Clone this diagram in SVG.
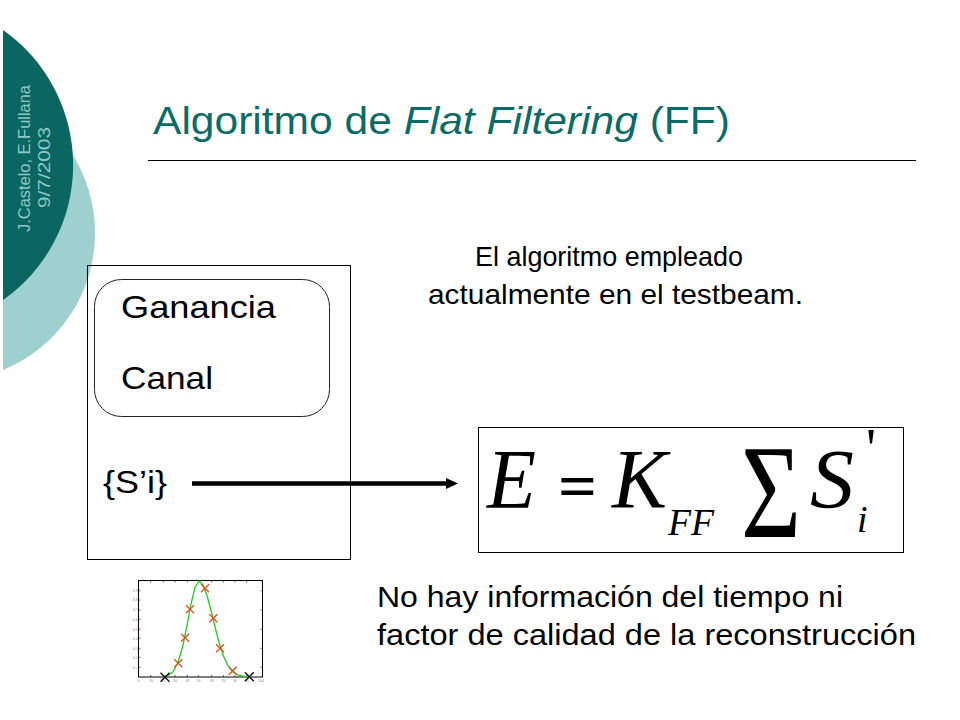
<svg xmlns="http://www.w3.org/2000/svg" width="960" height="720" viewBox="0 0 960 720">
<defs>
<style>
.sans{font-family:"Liberation Sans",Arial,sans-serif;}
.body{font-family:"Liberation Sans",Arial,sans-serif;fill:#000;}
.math{font-family:"Liberation Serif","Times New Roman",serif;fill:#000;}
.it{font-style:italic;}
.frame{fill:none;stroke:#000;stroke-width:1;}
.tick{stroke:#000;stroke-width:0.6;}
.tl{font-family:"Liberation Sans",Arial,sans-serif;font-size:3.5px;fill:#888;}
.mk{stroke:#d9531e;stroke-width:1.3;fill:none;}
.mkb{stroke:#111;stroke-width:1.4;fill:none;}
</style>
<marker id="ah" markerUnits="userSpaceOnUse" markerWidth="12" markerHeight="12" viewBox="0 0 12 12" refX="0" refY="6" orient="auto">
<path d="M0,0.5 L12,6 L0,11.5 Z" fill="#000"/>
</marker>
</defs>
<rect width="960" height="720" fill="#fff"/>

<g id="decoration">
<path d="M3,96 A148,148 0 0 1 3,370 Z" fill="#9fd0d0"/>
<path d="M3,30 A165,165 0 0 1 3,300 Z" fill="#0b6662"/>
<text class="sans" x="30" y="232" font-size="16" fill="#8fc7c6" textLength="147" lengthAdjust="spacingAndGlyphs" transform="rotate(-90 30 232)">J.Castelo, E.Fullana</text>
<text class="sans" x="50" y="208" font-size="16" fill="#8fc7c6" textLength="81" lengthAdjust="spacingAndGlyphs" transform="rotate(-90 50 208)">9/7/2003</text>
</g>

<g id="title">
<text class="sans" x="153" y="134" font-size="38" fill="#0c6b66" textLength="577" lengthAdjust="spacingAndGlyphs">Algoritmo de <tspan font-style="italic">Flat Filtering</tspan> (FF)</text>
<line x1="148" y1="160.5" x2="916" y2="160.5" stroke="#000" stroke-width="1"/>
</g>

<g id="node-channel">
<rect x="87.5" y="265.5" width="263" height="294" class="frame"/>
<g id="node-params">
<rect x="94.5" y="279.5" width="235" height="137" rx="27" ry="27" fill="none" stroke="#222" stroke-width="1"/>
<text class="body" x="121" y="318" font-size="32" textLength="155" lengthAdjust="spacingAndGlyphs">Ganancia</text>
<text class="body" x="121" y="389" font-size="32" textLength="92" lengthAdjust="spacingAndGlyphs">Canal</text>
</g>
<text id="node-signals" class="body" x="103" y="493" font-size="32" textLength="64" lengthAdjust="spacingAndGlyphs">{S’i}</text>
</g>

<g id="node-formula">
<rect x="478.5" y="427.5" width="425" height="125" class="frame"/>
<text class="math it" x="487" y="508" font-size="84" textLength="49" lengthAdjust="spacingAndGlyphs">E</text>
<text class="math" x="558" y="508" font-size="64" font-weight="bold" textLength="39" lengthAdjust="spacingAndGlyphs">=</text>
<text class="math it" x="612" y="508" font-size="84" textLength="55" lengthAdjust="spacingAndGlyphs">K</text>
<text class="math it" x="668" y="535" font-size="38" textLength="46" lengthAdjust="spacingAndGlyphs">FF</text>
<text class="math" x="741" y="537" font-size="134" textLength="60" lengthAdjust="spacingAndGlyphs">Σ</text>
<text class="math it" x="810" y="508" font-size="84" textLength="44" lengthAdjust="spacingAndGlyphs">S</text>
<text class="math it" x="857" y="532" font-size="38">i</text>
<text class="math" x="866" y="468" font-size="56">'</text>
</g>

<g id="note-top">
<text class="body" x="475" y="266" font-size="28" textLength="268" lengthAdjust="spacingAndGlyphs">El algoritmo empleado</text>
<text class="body" x="428" y="304" font-size="28" textLength="375" lengthAdjust="spacingAndGlyphs">actualmente en el testbeam.</text>
</g>

<g id="note-bottom">
<text class="body" x="377" y="607" font-size="30" textLength="466" lengthAdjust="spacingAndGlyphs">No hay información del tiempo ni</text>
<text class="body" x="377" y="645" font-size="30" textLength="539" lengthAdjust="spacingAndGlyphs">factor de calidad de la reconstrucción</text>
</g>

<g id="plot">
<rect x="138.5" y="580.5" width="124" height="96.5" class="frame"/>
<g class="tick">
<line x1="150.7" y1="677" x2="150.7" y2="675"/><line x1="163.3" y1="677" x2="163.3" y2="675"/><line x1="175" y1="677" x2="175" y2="675"/><line x1="187.3" y1="677" x2="187.3" y2="675"/><line x1="198.3" y1="677" x2="198.3" y2="675"/><line x1="211.7" y1="677" x2="211.7" y2="675"/><line x1="223.3" y1="677" x2="223.3" y2="675"/><line x1="235" y1="677" x2="235" y2="675"/><line x1="246.7" y1="677" x2="246.7" y2="675"/>
<line x1="150.7" y1="580.5" x2="150.7" y2="582.5"/><line x1="163.3" y1="580.5" x2="163.3" y2="582.5"/><line x1="175" y1="580.5" x2="175" y2="582.5"/><line x1="187.3" y1="580.5" x2="187.3" y2="582.5"/><line x1="211.7" y1="580.5" x2="211.7" y2="582.5"/><line x1="223.3" y1="580.5" x2="223.3" y2="582.5"/><line x1="235" y1="580.5" x2="235" y2="582.5"/><line x1="246.7" y1="580.5" x2="246.7" y2="582.5"/>
<line x1="138.5" y1="590.7" x2="140.5" y2="590.7"/><line x1="138.5" y1="600" x2="140.5" y2="600"/><line x1="138.5" y1="610" x2="140.5" y2="610"/><line x1="138.5" y1="619.3" x2="140.5" y2="619.3"/><line x1="138.5" y1="629.3" x2="140.5" y2="629.3"/><line x1="138.5" y1="638.3" x2="140.5" y2="638.3"/><line x1="138.5" y1="648.3" x2="140.5" y2="648.3"/><line x1="138.5" y1="657.3" x2="140.5" y2="657.3"/><line x1="138.5" y1="667.3" x2="140.5" y2="667.3"/>
<line x1="262.5" y1="590.7" x2="260.5" y2="590.7"/><line x1="262.5" y1="610" x2="260.5" y2="610"/><line x1="262.5" y1="629.3" x2="260.5" y2="629.3"/><line x1="262.5" y1="648.3" x2="260.5" y2="648.3"/><line x1="262.5" y1="667.3" x2="260.5" y2="667.3"/>
</g>
<g class="tl">
<text x="133" y="592">0.9</text><text x="133" y="601.3">0.8</text><text x="133" y="611.3">0.7</text><text x="133" y="620.6">0.6</text><text x="133" y="630.6">0.5</text><text x="133" y="639.6">0.4</text><text x="133" y="649.6">0.3</text><text x="133" y="658.6">0.2</text><text x="133" y="668.6">0.1</text>
<text x="137.5" y="682">0</text><text x="149" y="682">10</text><text x="161.5" y="682">20</text><text x="173.3" y="682">30</text><text x="185.5" y="682">40</text><text x="196.5" y="682">50</text><text x="210" y="682">60</text><text x="221.5" y="682">70</text><text x="233.3" y="682">80</text><text x="245" y="682">90</text><text x="258" y="682">100</text>
</g>
<polyline fill="none" stroke="#22cc22" stroke-width="1.3" points="163,676.6 168,675.5 173,671.7 178,662.5 183,645 187,625.3 191,604 195,587.4 199,581 203,584.8 207,595.5 211,610.5 215,627 219,642.4 223,655 228,665.8 233,672 238,675 244,676.5 250,677"/>
<path class="mk" d="M174.3,659.3 l8,8 M182.3,659.3 l-8,8 M181,633.7 l8,8 M189,633.7 l-8,8 M186,605.3 l8,8 M194,605.3 l-8,8 M201,584.3 l8,8 M209,584.3 l-8,8 M209.3,614.3 l8,8 M217.3,614.3 l-8,8 M216,644.3 l8,8 M224,644.3 l-8,8 M228.7,666.7 l8,8 M236.7,666.7 l-8,8"/>
<path class="mkb" d="M160.5,672.8 l9,9 M169.5,672.8 l-9,9 M244.8,672.2 l9,9 M253.8,672.2 l-9,9"/>
</g>

<g id="connectors">
<line x1="192" y1="483.5" x2="446" y2="483.5" stroke="#000" stroke-width="4.5" marker-end="url(#ah)"/>
</g>
</svg>
